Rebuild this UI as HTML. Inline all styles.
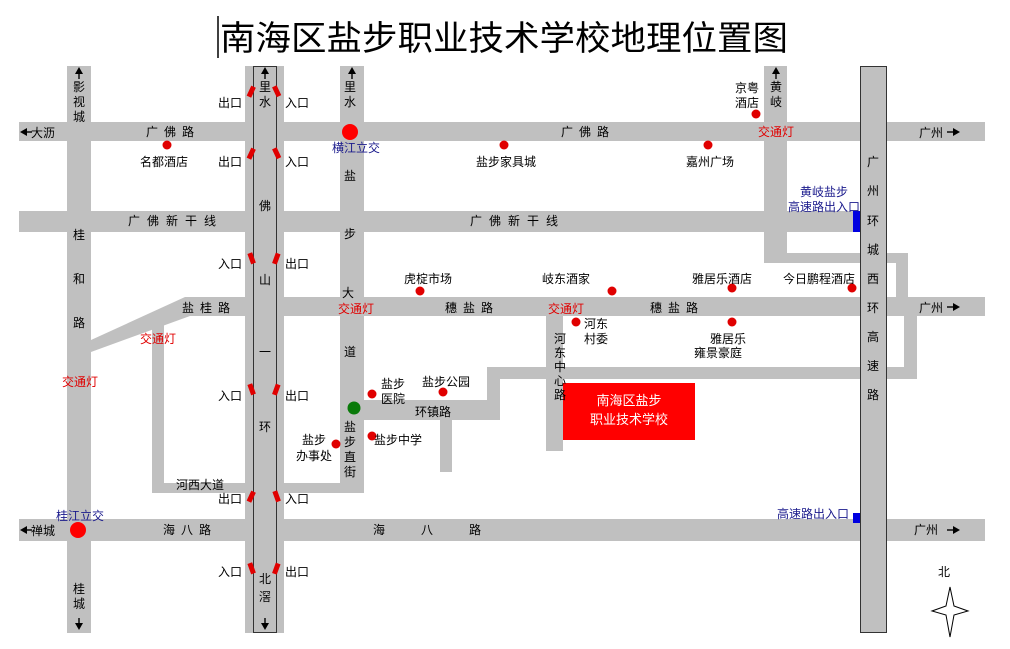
<!DOCTYPE html>
<html><head><meta charset="utf-8"><style>
html,body{margin:0;padding:0;background:#fff;}
svg{display:block;}
text{font-family:"Liberation Sans","Noto Sans CJK SC",sans-serif;font-size:12px;fill:#000;}
.r{fill:#e00000;}
.b{fill:#1a1a8c;}
.v{text-anchor:middle;}
</style></head><body>
<svg width="1010" height="649" viewBox="0 0 1010 649" xmlns="http://www.w3.org/2000/svg">
<g fill="#c0c0c0">
<rect x="19" y="122" width="966" height="19"/>
<rect x="19" y="211" width="836" height="21"/>
<rect x="190" y="297" width="795" height="19"/>
<rect x="19" y="519" width="966" height="22"/>
<rect x="67" y="66" width="24" height="567"/>
<rect x="245" y="66" width="39" height="567"/>
<rect x="340" y="66" width="24" height="427"/>
<rect x="764" y="66" width="23" height="197"/>
<rect x="764" y="253" width="144" height="10"/>
<rect x="896" y="253" width="12" height="44"/>
<polygon points="91,340 185,297 205,297 205,316 190,316 91,352"/>
<rect x="152" y="325" width="12" height="168"/>
<rect x="152" y="483" width="212" height="10"/>
<rect x="364" y="400" width="136" height="20"/>
<rect x="440" y="400" width="12" height="72"/>
<rect x="487" y="367" width="13" height="53"/>
<rect x="487" y="367" width="430" height="12"/>
<rect x="904" y="316" width="13" height="63"/>
<rect x="546" y="316" width="17" height="135"/>
</g>
<rect x="253.5" y="66.5" width="23" height="566" fill="none" stroke="#333" stroke-width="1"/>
<rect x="860.5" y="66.5" width="26" height="566" fill="#c0c0c0" stroke="#333" stroke-width="1"/>

<line x1="218" y1="16" x2="218" y2="58" stroke="#000" stroke-width="1.5"/>
<text x="220" y="50" textLength="568" lengthAdjust="spacingAndGlyphs" style="font-size:34px">南海区盐步职业技术学校地理位置图</text>

<g fill="#000">
<polygon points="79,67 75,74 83,74"/><rect x="78.3" y="73" width="1.4" height="6"/>
<polygon points="265,67 261,74 269,74"/><rect x="264.3" y="73" width="1.4" height="6"/>
<polygon points="352,67 348,74 356,74"/><rect x="351.3" y="73" width="1.4" height="6"/>
<polygon points="776,67 772,74 780,74"/><rect x="775.3" y="73" width="1.4" height="6"/>
<polygon points="79,630 75,623 83,623"/><rect x="78.3" y="618" width="1.4" height="6"/>
<polygon points="265,630 261,623 269,623"/><rect x="264.3" y="618" width="1.4" height="6"/>
<polygon points="20,132 27,128 27,136"/><rect x="26" y="131.3" width="6" height="1.4"/>
<polygon points="20,530 27,526 27,534"/><rect x="26" y="529.3" width="6" height="1.4"/>
<polygon points="960,132 953,128 953,136"/><rect x="947" y="131.3" width="7" height="1.4"/>
<polygon points="960,307 953,303 953,311"/><rect x="947" y="306.3" width="7" height="1.4"/>
<polygon points="960,530 953,526 953,534"/><rect x="947" y="529.3" width="7" height="1.4"/>
</g>

<g fill="#e00000">
<rect x="249" y="86" width="5" height="11" transform="rotate(25 251 91)"/>
<rect x="274" y="86" width="5" height="11" transform="rotate(-25 276 91)"/>
<rect x="249" y="148" width="5" height="11" transform="rotate(25 251 153)"/>
<rect x="274" y="148" width="5" height="11" transform="rotate(-25 276 153)"/>
<rect x="249" y="253" width="5" height="11" transform="rotate(-20 251 258)"/>
<rect x="274" y="253" width="5" height="11" transform="rotate(20 276 258)"/>
<rect x="249" y="384" width="5" height="11" transform="rotate(-20 251 389)"/>
<rect x="274" y="384" width="5" height="11" transform="rotate(20 276 389)"/>
<rect x="249" y="491" width="5" height="11" transform="rotate(25 251 496)"/>
<rect x="274" y="491" width="5" height="11" transform="rotate(-20 276 496)"/>
<rect x="249" y="563" width="5" height="11" transform="rotate(-20 251 568)"/>
<rect x="274" y="563" width="5" height="11" transform="rotate(20 276 568)"/>
</g>

<circle cx="350" cy="132" r="8" fill="#f00"/>
<circle cx="78" cy="530" r="8" fill="#f00"/>
<circle cx="354" cy="408" r="6.5" fill="#0a7a0a"/>
<g fill="#e00000">
<circle cx="167" cy="145" r="4.5"/><circle cx="504" cy="145" r="4.5"/><circle cx="708" cy="145" r="4.5"/><circle cx="756" cy="114" r="4.5"/>
<circle cx="420" cy="291" r="4.5"/><circle cx="612" cy="291" r="4.5"/><circle cx="732" cy="288" r="4.5"/><circle cx="852" cy="288" r="4.5"/>
<circle cx="576" cy="322" r="4.5"/><circle cx="732" cy="322" r="4.5"/>
<circle cx="372" cy="394" r="4.5"/><circle cx="443" cy="392" r="4.5"/><circle cx="336" cy="444" r="4.5"/><circle cx="372" cy="436" r="4.5"/>
</g>
<rect x="853" y="211" width="7" height="21" fill="#0000e0"/>
<rect x="853" y="513" width="7" height="10" fill="#0000e0"/>

<rect x="563" y="383" width="132" height="57" fill="#f00"/>
<text x="629" y="405" class="v" style="fill:#fff;font-size:13px">南海区盐步</text>
<text x="629" y="424" class="v" style="fill:#fff;font-size:13px">职业技术学校</text>

<g class="v">
<text x="79" y="91" class="v">影</text><text x="79" y="106" class="v">视</text><text x="79" y="121" class="v">城</text>
<text x="79" y="239" class="v">桂</text><text x="79" y="283" class="v">和</text><text x="79" y="327" class="v">路</text>
<text x="79" y="593" class="v">桂</text><text x="79" y="608" class="v">城</text>
<text x="265" y="91" class="v">里</text><text x="265" y="106" class="v">水</text>
<text x="265" y="210" class="v">佛</text><text x="265" y="284" class="v">山</text><text x="265" y="356" class="v">一</text><text x="265" y="431" class="v">环</text>
<text x="265" y="583" class="v">北</text><text x="265" y="601" class="v">滘</text>
<text x="350" y="91" class="v">里</text><text x="350" y="106" class="v">水</text>
<text x="350" y="180" class="v">盐</text><text x="350" y="238" class="v">步</text><text x="348" y="297" class="v">大</text><text x="350" y="356" class="v">道</text>
<text x="350" y="431" class="v">盐</text><text x="350" y="446" class="v">步</text><text x="350" y="461" class="v">直</text><text x="350" y="476" class="v">街</text>
<text x="776" y="91" class="v">黄</text><text x="776" y="106" class="v">岐</text>
<text x="873" y="166" class="v">广</text><text x="873" y="195" class="v">州</text><text x="873" y="225" class="v">环</text><text x="873" y="254" class="v">城</text><text x="873" y="283" class="v">西</text><text x="873" y="312" class="v">环</text><text x="873" y="341" class="v">高</text><text x="873" y="370" class="v">速</text><text x="873" y="399" class="v">路</text>
<text x="560" y="343" class="v">河</text><text x="560" y="357" class="v">东</text><text x="560" y="371" class="v">中</text><text x="560" y="385" class="v">心</text><text x="560" y="399" class="v">路</text>
</g>

<text x="146" y="136" style="letter-spacing:6px">广佛路</text>
<text x="561" y="136" style="letter-spacing:6px">广佛路</text>
<text x="128" y="225" style="letter-spacing:7px">广佛新干线</text>
<text x="470" y="225" style="letter-spacing:7px">广佛新干线</text>
<text x="182" y="312" style="letter-spacing:6px">盐桂路</text>
<text x="445" y="312" style="letter-spacing:6px">穗盐路</text>
<text x="650" y="312" style="letter-spacing:6px">穗盐路</text>
<text x="163" y="534" style="letter-spacing:6px">海八路</text>
<text x="373" y="534">海</text><text x="421" y="534">八</text><text x="469" y="534">路</text>
<text x="31" y="137">大沥</text>
<text x="31" y="535">禅城</text>
<text x="919" y="137">广州</text>
<text x="919" y="312">广州</text>
<text x="914" y="534">广州</text>

<text x="218" y="107">出口</text><text x="285" y="107">入口</text>
<text x="218" y="166">出口</text><text x="285" y="166">入口</text>
<text x="218" y="268">入口</text><text x="285" y="268">出口</text>
<text x="218" y="400">入口</text><text x="285" y="400">出口</text>
<text x="218" y="503">出口</text><text x="285" y="503">入口</text>
<text x="218" y="576">入口</text><text x="285" y="576">出口</text>

<text x="140" y="166">名都酒店</text>
<text x="476" y="166">盐步家具城</text>
<text x="686" y="166">嘉州广场</text>
<text x="735" y="92">京粤</text><text x="735" y="107">酒店</text>
<text x="404" y="283">虎椗市场</text>
<text x="542" y="283">岐东酒家</text>
<text x="692" y="283">雅居乐酒店</text>
<text x="783" y="283">今日鹏程酒店</text>
<text x="584" y="328">河东</text><text x="584" y="343">村委</text>
<text x="710" y="343">雅居乐</text><text x="694" y="357">雍景豪庭</text>
<text x="381" y="388">盐步</text><text x="381" y="403">医院</text>
<text x="422" y="386">盐步公园</text>
<text x="415" y="416">环镇路</text>
<text x="302" y="444">盐步</text><text x="296" y="460">办事处</text>
<text x="374" y="444">盐步中学</text>
<text x="176" y="489">河西大道</text>

<text x="332" y="152" class="b">横江立交</text>
<text x="56" y="520" class="b">桂江立交</text>
<text x="800" y="196" class="b">黄岐盐步</text>
<text x="788" y="211" class="b">高速路出入口</text>
<text x="777" y="518" class="b">高速路出入口</text>

<text x="758" y="136" class="r">交通灯</text>
<text x="338" y="313" class="r">交通灯</text>
<text x="548" y="313" class="r">交通灯</text>
<text x="140" y="343" class="r">交通灯</text>
<text x="62" y="386" class="r">交通灯</text>

<text x="938" y="576">北</text>
<polygon points="950,587 954,606 968,611 954,615 950,637 946,615 932,611 946,606" fill="#fff" stroke="#000" stroke-width="1"/>
</svg>
</body></html>
